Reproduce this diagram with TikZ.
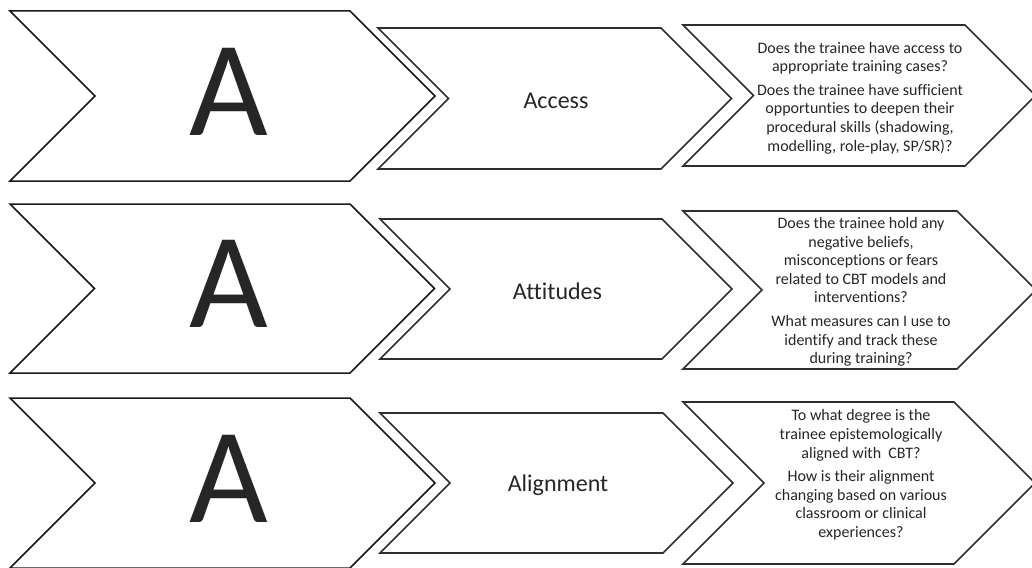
\documentclass[tikz,border=0pt]{standalone}
\usepackage{fontspec}
\setmainfont{Carlito}[Ligatures={NoCommon}]
\definecolor{inkline}{HTML}{2E2E2E}
\definecolor{inktext}{HTML}{262626}
% #1 style, #2 x-left, #3 y-top, #4 x-right, #5 y-bottom, #6 depth
\newcommand{\chevshape}[6]{%
  \draw[#1] (#2,#3) -- (#4,#3) -- ({#4+#6},{(#3+#5)/2}) -- (#4,#5) -- (#2,#5)
    -- ({#2+#6},{(#3+#5)/2}) -- cycle;}
\tikzset{
  bigchev/.style={draw=black!90, fill=white, line width=1.5pt, line join=miter},
  chevbox/.style={draw=inkline, fill=white, line width=1.6pt, line join=miter},
  bigletter/.style={inner sep=0pt, text=inktext, font=\fontsize{136}{136}\selectfont},
  midlabel/.style={anchor=base, inner sep=0pt, text=inktext, font=\fontsize{24}{28}\selectfont},
  question/.style={inner sep=0pt, align=center, text=inktext, font=\fontsize{16}{18.6}\selectfont},
}
\begin{document}
\begin{tikzpicture}[x=1pt, y=-1pt]
\useasboundingbox (0,0) rectangle (1032,567);
% row 1
\chevshape{bigchev}{10}{11}{350}{181}{85}
\chevshape{chevbox}{378}{28}{661}{169}{70.5}
\chevshape{chevbox}{683}{25}{965}{166}{70.5}
% row 2
\chevshape{bigchev}{10}{204}{350}{373}{84.5}
\chevshape{chevbox}{380}{219}{662}{359}{70}
\chevshape{chevbox}{683}{211}{957}{369}{79}
% row 3
\chevshape{bigchev}{10}{398}{350}{568}{85}
\chevshape{chevbox}{380}{413}{663}{553}{70}
\chevshape{chevbox}{683}{402}{954}{564}{81}

\node[bigletter] (a1) at (229,91.5) {A};
\node[bigletter] (a2) at (229,284) {A};
\node[bigletter] (a3) at (229,478.5) {A};

\node[midlabel] (access) at (556,108.3) {Access};
\node[midlabel] (attitudes) at (557.5,299) {Attitudes};
\node[midlabel] (alignment) at (558,491.7) {Alignment};

\node[question] (q1) at (860,98) {Does the trainee have access to\\appropriate training cases?\\[5pt]
Does the trainee have sufficient\\opportunties to deepen their\\procedural skills (shadowing,\\modelling, role-play, SP/SR)?};
\node[question] (q2) at (861,292) {Does the trainee hold any\\negative beliefs,\\misconceptions or fears\\related to CBT models and\\interventions?\\[5pt]
What measures can I use to\\identify and track these\\during training?};
\node[question] (q3) at (861,475) {To what degree is the\\trainee epistemologically\\aligned with~ CBT?\\[5pt]
How is their alignment\\changing based on various\\classroom or clinical\\experiences?};
\end{tikzpicture}
\end{document}
